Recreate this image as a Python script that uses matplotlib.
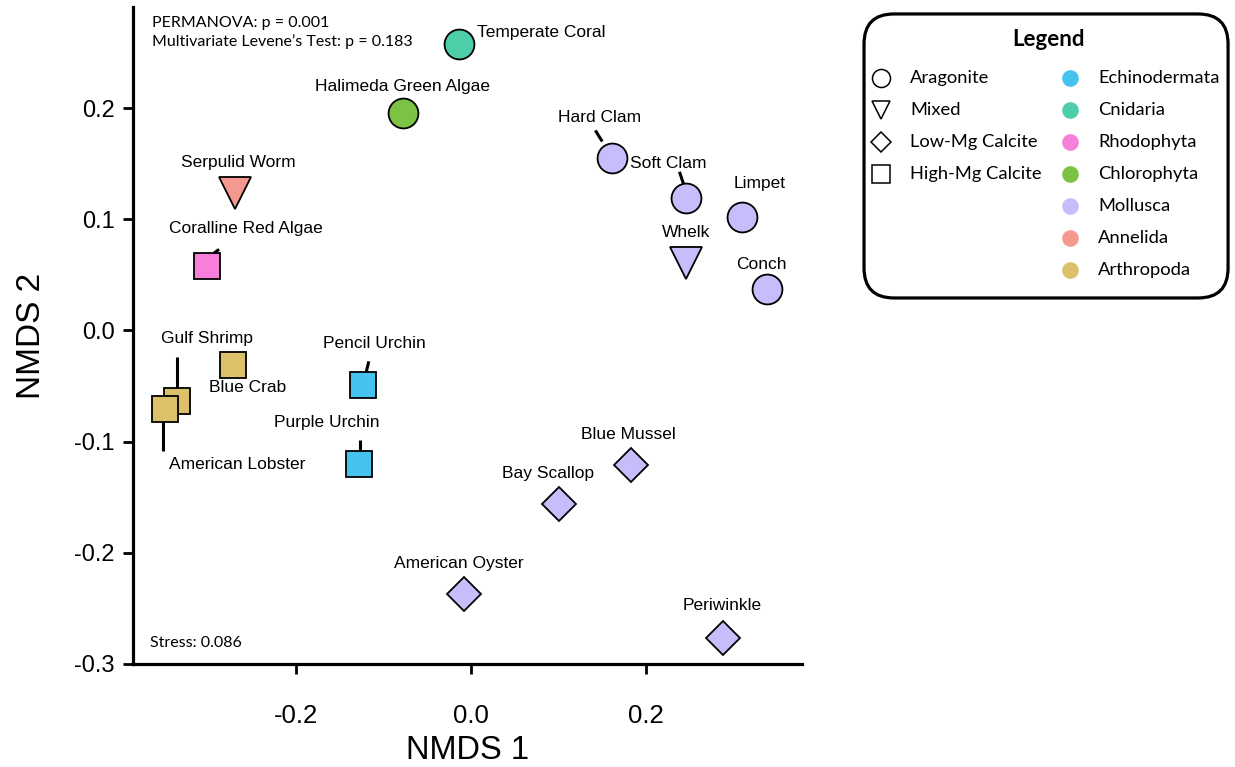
import matplotlib
matplotlib.use('Agg')
import matplotlib.pyplot as plt
import matplotlib.transforms as mtransforms
from matplotlib.patches import FancyBboxPatch

plt.rcParams['font.family'] = ['Liberation Sans', 'DejaVu Sans']

# NMDS scores.
species = ['Temperate Coral', 'Halimeda Green Algae', 'Hard Clam', 'Soft Clam',
           'Limpet', 'Whelk', 'Conch', 'Serpulid Worm', 'Coralline Red Algae',
           'Gulf Shrimp', 'Blue Crab', 'American Lobster', 'Pencil Urchin',
           'Purple Urchin', 'Blue Mussel', 'Bay Scallop', 'American Oyster',
           'Periwinkle']
nmds1 = [-0.014, -0.078, 0.161, 0.246, 0.310, 0.246, 0.338, -0.270, -0.302,
         -0.336, -0.272, -0.350, -0.123, -0.128, 0.183, 0.101, -0.008, 0.288]
nmds2 = [0.258, 0.196, 0.155, 0.119, 0.102, 0.061, 0.037, 0.124, 0.058,
         -0.063, -0.031, -0.071, -0.049, -0.120, -0.121, -0.156, -0.237, -0.277]
mineral = ['Aragonite', 'Aragonite', 'Aragonite', 'Aragonite', 'Aragonite',
           'Mixed', 'Aragonite', 'Mixed', 'High-Mg Calcite', 'High-Mg Calcite',
           'High-Mg Calcite', 'High-Mg Calcite', 'High-Mg Calcite',
           'High-Mg Calcite', 'Low-Mg Calcite', 'Low-Mg Calcite',
           'Low-Mg Calcite', 'Low-Mg Calcite']
phylum = ['Cnidaria', 'Chlorophyta', 'Mollusca', 'Mollusca', 'Mollusca',
          'Mollusca', 'Mollusca', 'Annelida', 'Rhodophyta', 'Arthropoda',
          'Arthropoda', 'Arthropoda', 'Echinodermata', 'Echinodermata',
          'Mollusca', 'Mollusca', 'Mollusca', 'Mollusca']

mineral_names = ['Aragonite', 'Mixed', 'Low-Mg Calcite', 'High-Mg Calcite']
phylum_names = ['Echinodermata', 'Cnidaria', 'Rhodophyta', 'Chlorophyta',
                'Mollusca', 'Annelida', 'Arthropoda']

# styling
markers = {'Aragonite': ('o', 21.5), 'Mixed': ('v', 23), 'Low-Mg Calcite': ('D', 17.5),
           'High-Mg Calcite': ('s', 18.5)}
colors = {'Echinodermata': '#45C3EE', 'Cnidaria': '#4ECDA9', 'Rhodophyta': '#F77FD9',
          'Chlorophyta': '#7DC343', 'Mollusca': '#C9BCFA', 'Annelida': '#F5988F',
          'Arthropoda': '#DCC06A'}

# label offsets (points from marker) and leader lines (far end, near end)
label_pos = {
    'Temperate Coral': (13, 8, 'left'), 'Halimeda Green Algae': (0, 19, 'center'),
    'Hard Clam': (-9, 29, 'center'), 'Soft Clam': (-13, 25, 'center'),
    'Limpet': (12, 24, 'center'), 'Whelk': (0, 22, 'center'),
    'Conch': (-4, 18, 'center'), 'Serpulid Worm': (3, 22, 'center'),
    'Coralline Red Algae': (28, 27, 'center'), 'Gulf Shrimp': (22, 45, 'center'),
    'Blue Crab': (11, -16, 'center'), 'American Lobster': (52, -40, 'center'),
    'Pencil Urchin': (8, 30, 'center'), 'Purple Urchin': (-23, 30, 'center'),
    'Blue Mussel': (-2, 22, 'center'), 'Bay Scallop': (-8, 22, 'center'),
    'American Oyster': (-4, 22, 'center'), 'Periwinkle': (-1, 24, 'center'),
}
leaders = {
    'Hard Clam': ((-12, 20), (-7, 12)), 'Soft Clam': ((-5, 19), (-2, 10)),
    'Coralline Red Algae': ((9, 12), (5, 9)), 'Gulf Shrimp': ((0, 31), (0, 9)),
    'American Lobster': ((-1, -8), (-1, -30)), 'Pencil Urchin': ((4, 17), (2, 9)),
    'Purple Urchin': ((1, 17), (1, 9)),
}

fig = plt.figure(figsize=(12.35, 7.67), dpi=100)
ax = fig.add_axes([0.1077, 0.1343, 0.5417, 0.8566])

for name, x, y, m, p in zip(species, nmds1, nmds2, mineral, phylum):
    mk, ms = markers[m]
    ax.plot(x, y, marker=mk, ms=ms, mfc=colors[p], mec='black', mew=1.3,
            ls='none', zorder=3)
    dx, dy, ha = label_pos[name]
    ax.annotate(name, (x, y), xytext=(dx, dy), textcoords='offset points',
                ha=ha, va='center', fontsize=12.5, zorder=4)
    if name in leaders:
        (x0, y0), (x1, y1) = leaders[name]
        tr = (mtransforms.Affine2D().scale(1 / 72.) + fig.dpi_scale_trans
              + mtransforms.ScaledTranslation(x, y, ax.transData))
        ax.plot([x0, x1], [y0, y1], color='black', lw=2.2, transform=tr,
                solid_capstyle='butt', zorder=2)

ax.set_xlim(-0.386, 0.378)
ax.set_ylim(-0.3, 0.291)
ax.set_xticks([-0.2, 0.0, 0.2])
ax.set_yticks([-0.3, -0.2, -0.1, 0.0, 0.1, 0.2])
ax.xaxis.set_major_formatter(plt.FormatStrFormatter('%.1f'))
ax.yaxis.set_major_formatter(plt.FormatStrFormatter('%.1f'))
for s in ['top', 'right']:
    ax.spines[s].set_visible(False)
for s in ['left', 'bottom']:
    ax.spines[s].set_linewidth(2.3)
ax.tick_params(axis='both', length=7, width=2)
ax.tick_params(axis='y', labelsize=17, pad=6)
ax.tick_params(axis='x', labelsize=18.5, pad=22)
ax.set_xlabel('NMDS 1', fontsize=23.5, va='center')
ax.xaxis.set_label_coords(0.5, -0.131)
ax.set_ylabel('NMDS 2', fontsize=24, labelpad=20)

ax.text(0.028, 0.987, 'PERMANOVA: p = 0.001\nMultivariate Levene\u2019s Test: p = 0.183',
        transform=ax.transAxes, ha='left', va='top', fontsize=11.5,
        family=['Lato', 'DejaVu Sans'], linespacing=1.35)
ax.text(0.025, 0.022, 'Stress: 0.086', transform=ax.transAxes, ha='left',
        va='bottom', fontsize=11.5, family=['Lato', 'DejaVu Sans'])

# legend panel
lax = fig.add_axes([0.698, 0.6089, 0.298, 0.3755])
lax.set_xlim(0, 368)
lax.set_ylim(288, 0)
lax.axis('off')
lax.add_patch(FancyBboxPatch((2, 2), 364, 284, boxstyle='round,pad=0,rounding_size=30',
                             fc='white', ec='black', lw=2.3))
lax.text(186, 28, 'Legend', ha='center', va='center', fontsize=16,
         fontweight='bold', family=['Lato', 'DejaVu Sans'])
for i, m in enumerate(mineral_names):
    mk, ms = markers[m]
    lax.plot(19, 66 + 32 * i, marker=mk, ms={'o': 13, 'v': 13, 'D': 10, 's': 13}[mk],
             mfc='white', mec='black', mew=1.1, ls='none')
    lax.text(48, 66 + 32 * i, m, va='center', fontsize=13.2, family=['Lato', 'DejaVu Sans'])
for i, p in enumerate(phylum_names):
    lax.plot(208, 66 + 32 * i, marker='o', ms=12, mfc=colors[p], mec='none', ls='none')
    lax.text(236, 66 + 32 * i, p, va='center', fontsize=13.2, family=['Lato', 'DejaVu Sans'])

fig.savefig('out.png', dpi=100)
